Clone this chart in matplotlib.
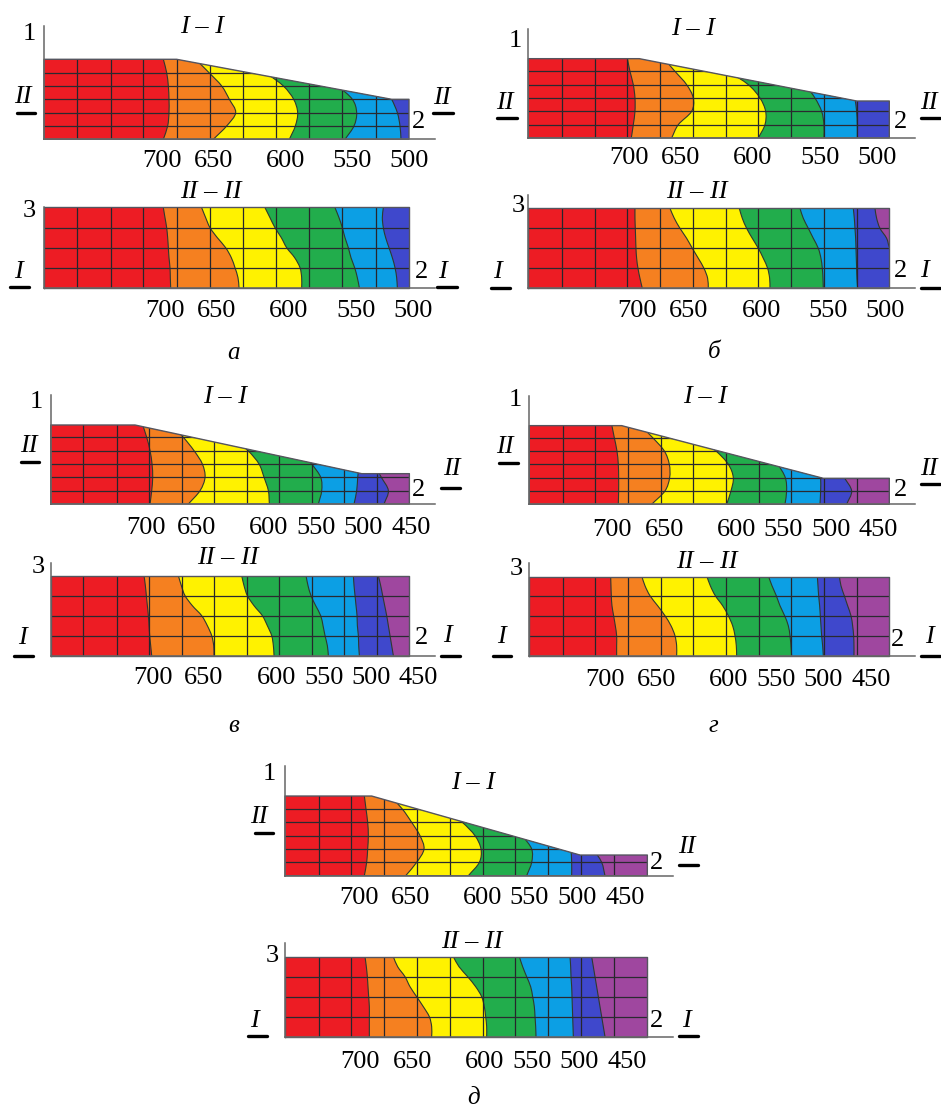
import matplotlib
matplotlib.use('Agg')
import numpy as np
import matplotlib.pyplot as plt
from matplotlib.path import Path
from matplotlib.patches import PathPatch, Polygon

W, H = 941, 1109
SCALE = 3.0  # section data is in units of 1/3 pixel

COLORS = ['#ed1c24', '#f58020', '#fff200', '#22ad4c', '#0c9fe4', '#3f48cc', '#9f479f']

TOP_LEVELS = [0, 40, 80, 120, 160, 200, 240]
BOTTOM_LEVELS = [0, 30, 60, 90, 120, 150, 180, 210, 240]

# panel a
A_TOP_OUTLINE = [(0, 0), (0, 240), (398, 240), (1043, 120), (1095, 120), (1095, 0)]
A_TOP_ISO = [
    [358, 371, 375, 375, 373, 368, 358],
    [508, 548, 575, 556, 533, 495, 455],
    [736, 754, 761, 749, 718, 665, 610],
    [903, 930, 938, 925, 880, 820, 770],
    [1071, 1068, 1060, 1043, 1020, 1000, 980],
]
A_BOT_ISO = [
    [380, 379, 378, 375, 373, 371, 368, 363, 358],
    [585, 582, 573, 562, 545, 520, 498, 485, 473],
    [773, 773, 768, 752, 728, 712, 693, 678, 663],
    [946, 940, 932, 921, 913, 903, 895, 885, 873],
    [1060, 1058, 1053, 1045, 1035, 1025, 1018, 1015, 1018],
]
A_VLINES = [100, 200, 298, 398, 498, 596, 696, 795, 895, 995]
A_TICKS = ['700', '650', '600', '550', '500']

# panel b
B_TOP_OUTLINE = [(0, 0), (0, 238), (333, 238), (985, 111), (1083, 111), (1083, 0)]
B_TOP_ISO = [
    [309, 315, 320, 320, 315, 305, 297],
    [430, 450, 490, 495, 475, 440, 405],
    [690, 710, 712, 695, 660, 600, 540],
    [887, 887, 880, 860, 830, 790, 750],
    [987, 987, 985, 980, 975, 970, 965],
]
B_BOT_ISO = [
    [342, 335, 329, 325, 323, 322, 321, 320, 320],
    [540, 538, 527, 510, 492, 475, 455, 438, 425],
    [725, 724, 718, 705, 690, 672, 655, 642, 633],
    [885, 884, 882, 878, 870, 855, 840, 825, 815],
    [988, 986, 985, 984, 983, 982, 980, 978, 975],
    [1200, 1170, 1140, 1110, 1085, 1075, 1055, 1045, 1040],
]
B_VLINES = [100, 200, 295, 395, 493, 592, 690, 788, 887, 985]
B_TICKS = ['700', '650', '600', '550', '500']

# panel v
V_TOP_OUTLINE = [(0, 0), (0, 237), (253, 237), (933, 91), (1076, 91), (1076, 0)]
V_TOP_ISO = [
    [298, 303, 306, 304, 298, 288, 275],
    [413, 448, 463, 455, 430, 398, 360],
    [656, 653, 640, 625, 592, 545, 500],
    [803, 813, 810, 783, 750, 720, 690],
    [910, 918, 921, 925, 925, 925, 925],
    [1000, 1013, 992, 970, 950, 930, 910],
]
V_BOT_ISO = [
    [303, 300, 297, 295, 293, 290, 287, 284, 280],
    [490, 489, 483, 470, 453, 425, 403, 392, 383],
    [670, 668, 663, 650, 635, 610, 590, 580, 573],
    [833, 830, 823, 817, 810, 795, 781, 772, 766],
    [926, 924, 923, 920, 919, 916, 913, 910, 908],
    [1028, 1023, 1018, 1013, 1008, 1002, 996, 990, 983],
]
V_VLINES = [98, 198, 295, 393, 491, 590, 686, 783, 881, 978]
G_TICKS = ['700', '650', '600', '550', '500', '450']

# panel g
G_TOP_OUTLINE = [(0, 0), (0, 236), (277, 236), (882, 78), (1080, 78), (1080, 0)]
G_TOP_ISO = [
    [267, 268, 268, 267, 263, 255, 247],
    [367, 407, 421, 420, 405, 370, 330],
    [592, 605, 612, 597, 560, 510, 460],
    [767, 772, 768, 745, 710, 670, 630],
    [872, 874, 874, 870, 870, 870, 870],
    [952, 967, 945, 920, 895, 870, 845],
]
G_BOT_ISO = [
    [262, 262, 262, 258, 253, 248, 246, 245, 244],
    [442, 442, 437, 425, 407, 385, 362, 347, 337],
    [622, 621, 617, 610, 597, 580, 558, 543, 532],
    [787, 785, 782, 777, 766, 752, 741, 728, 717],
    [882, 880, 877, 875, 873, 871, 868, 866, 864],
    [974, 974, 973, 970, 965, 955, 945, 935, 930],
]
G_VLINES = [100, 198, 295, 394, 492, 590, 688, 786, 884, 982]

# panel d
D_TOP_OUTLINE = [(0, 0), (0, 239), (260, 239), (885, 62), (1087, 62), (1087, 0)]
D_TOP_ISO = [
    [238, 245, 248, 250, 248, 243, 238],
    [362, 395, 417, 405, 380, 352, 315],
    [550, 583, 588, 570, 532, 480, 430],
    [725, 740, 740, 712, 680, 640, 600],
    [860, 860, 858, 855, 852, 850, 848],
    [960, 950, 925, 900, 875, 850, 825],
]
D_BOT_ISO = [
    [253, 253, 253, 253, 251, 249, 247, 244, 240],
    [440, 440, 433, 415, 395, 375, 360, 338, 325],
    [605, 605, 602, 598, 590, 572, 548, 522, 505],
    [753, 752, 750, 748, 743, 737, 725, 713, 703],
    [865, 864, 863, 862, 861, 860, 858, 857, 855],
    [960, 955, 950, 945, 940, 935, 930, 925, 920],
]
D_VLINES = [101, 199, 297, 395, 495, 593, 691, 790, 887, 987]

TOP_HLINES = [40, 80, 120, 160, 200]
BOT_HLINES = [60, 120, 180]


def smooth_path(x, y):
    # catmull-rom through the read points, as bezier segments
    pts = np.column_stack([x, y]).astype(float)
    pad = np.vstack([2 * pts[0] - pts[1], pts, 2 * pts[-1] - pts[-2]])
    verts = [pts[0]]
    codes = [Path.MOVETO]
    for i in range(1, len(pad) - 2):
        p0, p1, p2, p3 = pad[i - 1], pad[i], pad[i + 1], pad[i + 2]
        verts += [p1 + (p2 - p0) / 6, p2 - (p3 - p1) / 6, p2]
        codes += [Path.CURVE4] * 3
    return np.array(verts), codes


def section(left, base, outline, levels, iso, vlines, hlines, axis_top, end):
    ax = fig.add_axes([left / W, 1 - base / H, end / SCALE / W, axis_top / SCALE / H])
    ax.set_xlim(0, end)
    ax.set_ylim(0, axis_top)
    ax.axis('off')

    body = Polygon(outline, closed=True, fc=COLORS[0], ec='none', zorder=1)
    ax.add_patch(body)
    for i, xs in enumerate(iso):
        # carry the curve past both edges, the body clips it
        y = [2 * levels[0] - levels[1]] + list(levels) + [2 * levels[-1] - levels[-2]]
        x = [2 * xs[0] - xs[1]] + list(xs) + [2 * xs[-1] - xs[-2]]
        verts, codes = smooth_path(x, y)
        fill = Path(np.vstack([verts, [5000, y[-1]], [5000, y[0]], verts[0]]),
                    codes + [Path.LINETO, Path.LINETO, Path.CLOSEPOLY])
        patch = PathPatch(fill, fc=COLORS[i + 1], ec='none', zorder=2 + i)
        ax.add_patch(patch)
        patch.set_clip_path(body)
        edge = PathPatch(Path(verts, codes), fc='none', ec='#2e3a30', lw=0.8, zorder=9)
        ax.add_patch(edge)
        edge.set_clip_path(body)

    top = max(p[1] for p in outline)
    right = max(p[0] for p in outline)
    for v in vlines:
        line, = ax.plot([v, v], [0, top], color='#26262c', lw=0.9, zorder=10)
        line.set_clip_path(body)
    for h in hlines:
        line, = ax.plot([0, right], [h, h], color='#2a2a30', lw=0.9, zorder=10)
        line.set_clip_path(body)

    ox, oy = zip(*outline)
    ax.plot(list(ox) + [ox[0]], list(oy) + [oy[0]], color='#55555f', lw=1.0, zorder=11, clip_on=False)
    ax.plot([0, 0], [0, axis_top], color='#666666', lw=1.1, zorder=11, clip_on=False)
    ax.plot([0, end], [0, 0], color='#666666', lw=1.1, zorder=11, clip_on=False)


def rect(h, w):
    return [(0, 0), (0, h), (w, h), (w, 0)]


def label(x, y, s, italic=False, size=19):
    over.text(x, y, s, ha='center', va='center', fontsize=size,
              family='Liberation Serif', style='italic' if italic else 'normal', zorder=20)


def bar(x0, x1, y):
    over.plot([x0, x1], [y, y], color='black', lw=2.4, solid_capstyle='round', zorder=20)


plt.rcParams['font.family'] = ['Liberation Serif', 'DejaVu Sans']
fig = plt.figure(figsize=(W / 100, H / 100), dpi=100, facecolor='white')

section(44, 139.3, A_TOP_OUTLINE, TOP_LEVELS, A_TOP_ISO, A_VLINES, TOP_HLINES, 340, 1173)
section(44, 287.7, rect(241, 1095), BOTTOM_LEVELS, A_BOT_ISO, A_VLINES, BOT_HLINES, 241, 1173)
section(528.3, 138, B_TOP_OUTLINE, TOP_LEVELS, B_TOP_ISO, B_VLINES, TOP_HLINES, 326, 1160)
section(528.3, 288.3, rect(241, 1083), BOTTOM_LEVELS, B_BOT_ISO, B_VLINES, BOT_HLINES, 280, 1160)
section(50.7, 504, V_TOP_OUTLINE, TOP_LEVELS, V_TOP_ISO, V_VLINES, TOP_HLINES, 327, 1153)
section(50.7, 655.7, rect(238, 1076), BOTTOM_LEVELS, V_BOT_ISO, V_VLINES, BOT_HLINES, 277, 1153)
section(529.3, 504.3, G_TOP_OUTLINE, TOP_LEVELS, G_TOP_ISO, G_VLINES, TOP_HLINES, 326, 1157)
section(529.3, 655.7, rect(236, 1080), BOTTOM_LEVELS, G_BOT_ISO, G_VLINES, BOT_HLINES, 277, 1157)
section(285, 875.7, D_TOP_OUTLINE, TOP_LEVELS, D_TOP_ISO, D_VLINES, TOP_HLINES, 329, 1165)
section(285, 1036.7, rect(240, 1087), BOTTOM_LEVELS, D_BOT_ISO, D_VLINES, BOT_HLINES, 280, 1165)

over = fig.add_axes([0, 0, 1, 1], facecolor='none')
over.set_xlim(0, W)
over.set_ylim(H, 0)
over.axis('off')


def tick_row(xs, y, names):
    for x, s in zip(xs, names):
        label(x, y, s)


# (x, y) for: 1, I-I, II left, II right, 2, II-II, 3, I left, 2, I right, letter
def annotate(p, bars, letter):
    label(*p[0], '1')
    label(*p[1], 'I – I', True)
    label(*p[2], 'II', True)
    label(*p[3], 'II', True)
    label(*p[4], '2')
    label(*p[5], 'II – II', True)
    label(*p[6], '3')
    label(*p[7], 'I', True)
    label(*p[8], '2')
    label(*p[9], 'I', True)
    label(*p[10], letter, True, 18)
    for b in bars:
        bar(*b)


annotate([(29, 34), (202, 27), (23, 97), (442, 98), (419, 122), (211, 192), (29, 211),
          (18, 272), (422, 272), (442, 272), (234, 353)],
         [(17, 35, 113), (433, 453, 113), (10, 29, 287), (437, 457, 287)], 'а')
tick_row([162, 214, 286, 352, 409], 161, A_TICKS)
tick_row([165, 217, 289, 356, 413], 311, A_TICKS)

annotate([(515, 41), (693, 29), (505, 103), (929, 103), (901, 122), (697, 192), (518, 206),
          (497, 272), (901, 271), (924, 271), (714, 352)],
         [(497, 517, 118), (921, 940, 118), (491, 510, 288), (921, 940, 288)], 'б')
tick_row([629, 681, 753, 820, 877], 158, B_TICKS)
tick_row([637, 689, 762, 828, 885], 311, B_TICKS)

annotate([(36, 402), (225, 397), (29, 446), (452, 469), (419, 490), (228, 558), (38, 567),
          (22, 638), (422, 638), (447, 636), (234, 726)],
         [(21, 39, 462), (441, 460, 488), (14, 33, 656), (441, 460, 656)], 'в')
tick_row([146, 197, 269, 316, 363, 411], 528, G_TICKS)
tick_row([153, 204, 277, 324, 371, 418], 678, G_TICKS)

annotate([(515, 400), (705, 397), (505, 447), (929, 469), (901, 490), (707, 562), (516, 569),
          (501, 637), (898, 640), (929, 637), (713, 726)],
         [(499, 518, 463), (921, 940, 484), (493, 511, 656), (921, 940, 656)], 'г')
tick_row([612, 665, 737, 783, 831, 878], 530, G_TICKS)
tick_row([605, 657, 729, 776, 823, 871], 680, G_TICKS)

annotate([(269, 774), (473, 783), (259, 817), (687, 847), (657, 863), (472, 942), (272, 956),
          (254, 1021), (657, 1021), (686, 1021), (474, 1098)],
         [(255, 273, 833), (679, 698, 865), (248, 267, 1036), (679, 698, 1036)], 'д')
tick_row([359, 411, 483, 529, 577, 625], 898, G_TICKS)
tick_row([360, 413, 485, 532, 579, 627], 1062, G_TICKS)

fig.savefig('out.png', dpi=100)
